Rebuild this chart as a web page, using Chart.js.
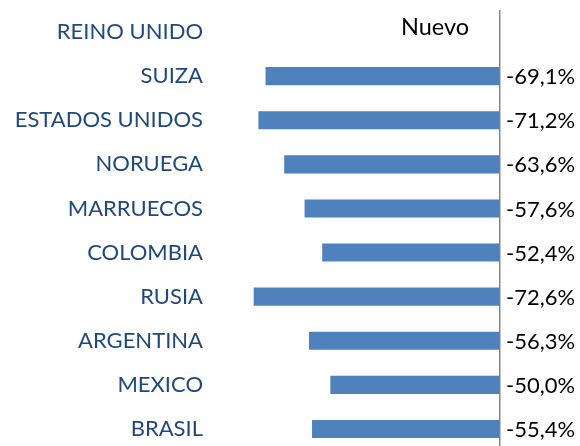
<!DOCTYPE html>
<html>
<head>
<meta charset="utf-8">
<script src="https://cdn.jsdelivr.net/npm/chart.js@4"></script>
<style>
  html, body { margin: 0; padding: 0; background: #fff; overflow: hidden; }
  #wrap { width: 580px; height: 451px; }
</style>
</head>
<body>
<div id="wrap"><canvas id="myChart"></canvas></div>
<script>
const countries = ["REINO UNIDO", "SUIZA", "ESTADOS UNIDOS", "NORUEGA", "MARRUECOS",
  "COLOMBIA", "RUSIA", "ARGENTINA", "MEXICO", "BRASIL"];
const nuevo = [null, -69.1, -71.2, -63.6, -57.6, -52.4, -72.6, -56.3, -50.0, -55.4];
const seriesName = "Nuevo";

const FONT = "Lato, 'Open Sans', sans-serif";

// value labels to the right of the zero line + series name
const valueLabels = {
  id: "valueLabels",
  afterDatasetsDraw(chart) {
    const ctx = chart.ctx;
    const meta = chart.getDatasetMeta(0);
    const x0 = chart.scales.x.getPixelForValue(0);
    ctx.save();
    ctx.font = "22px " + FONT;
    ctx.fillStyle = "#000";
    ctx.textAlign = "left";
    ctx.textBaseline = "middle";
    meta.data.forEach((bar, i) => {
      const v = nuevo[i];
      if (v === null) return;
      ctx.fillText(v.toFixed(1).replace(".", ",") + "%", x0 + 6, bar.y + 1);
    });
    ctx.font = "23.5px " + FONT;
    ctx.textAlign = "center";
    ctx.fillText(seriesName, 435, 27);
    ctx.restore();
  }
};

const ctx = document.getElementById("myChart").getContext("2d");
const myChart = new Chart(ctx, {
  type: "bar",
  data: {
    labels: countries,
    datasets: [{
      label: seriesName,
      data: nuevo,
      backgroundColor: "#4F81BD",
      borderWidth: 0,
      barPercentage: 0.41,
      categoryPercentage: 1
    }]
  },
  options: {
    indexAxis: "y",
    responsive: true,
    maintainAspectRatio: false,
    animation: false,
    layout: { padding: { top: 10, right: 80, bottom: 0, left: 0 } },
    plugins: {
      legend: { display: false },
      tooltip: { enabled: false }
    },
    scales: {
      x: {
        min: -84,
        max: 0,
        afterFit: (scale) => { scale.height = 0; },
        ticks: { display: false },
        border: { display: false },
        grid: {
          drawTicks: false,
          lineWidth: 1.5,
          color: (c) => (c.tick && c.tick.value === 0 ? "#868686" : "rgba(0,0,0,0)")
        }
      },
      y: {
        afterFit: (scale) => {
          scale.width = 215;
          scale.paddingTop = 0;
          scale.paddingBottom = 0;
        },
        border: { display: false },
        grid: { display: false, drawTicks: false },
        ticks: {
          padding: 12,
          color: "#1F497D",
          font: { family: FONT, size: 22 }
        }
      }
    }
  },
  plugins: [valueLabels]
});
</script>
</body>
</html>
